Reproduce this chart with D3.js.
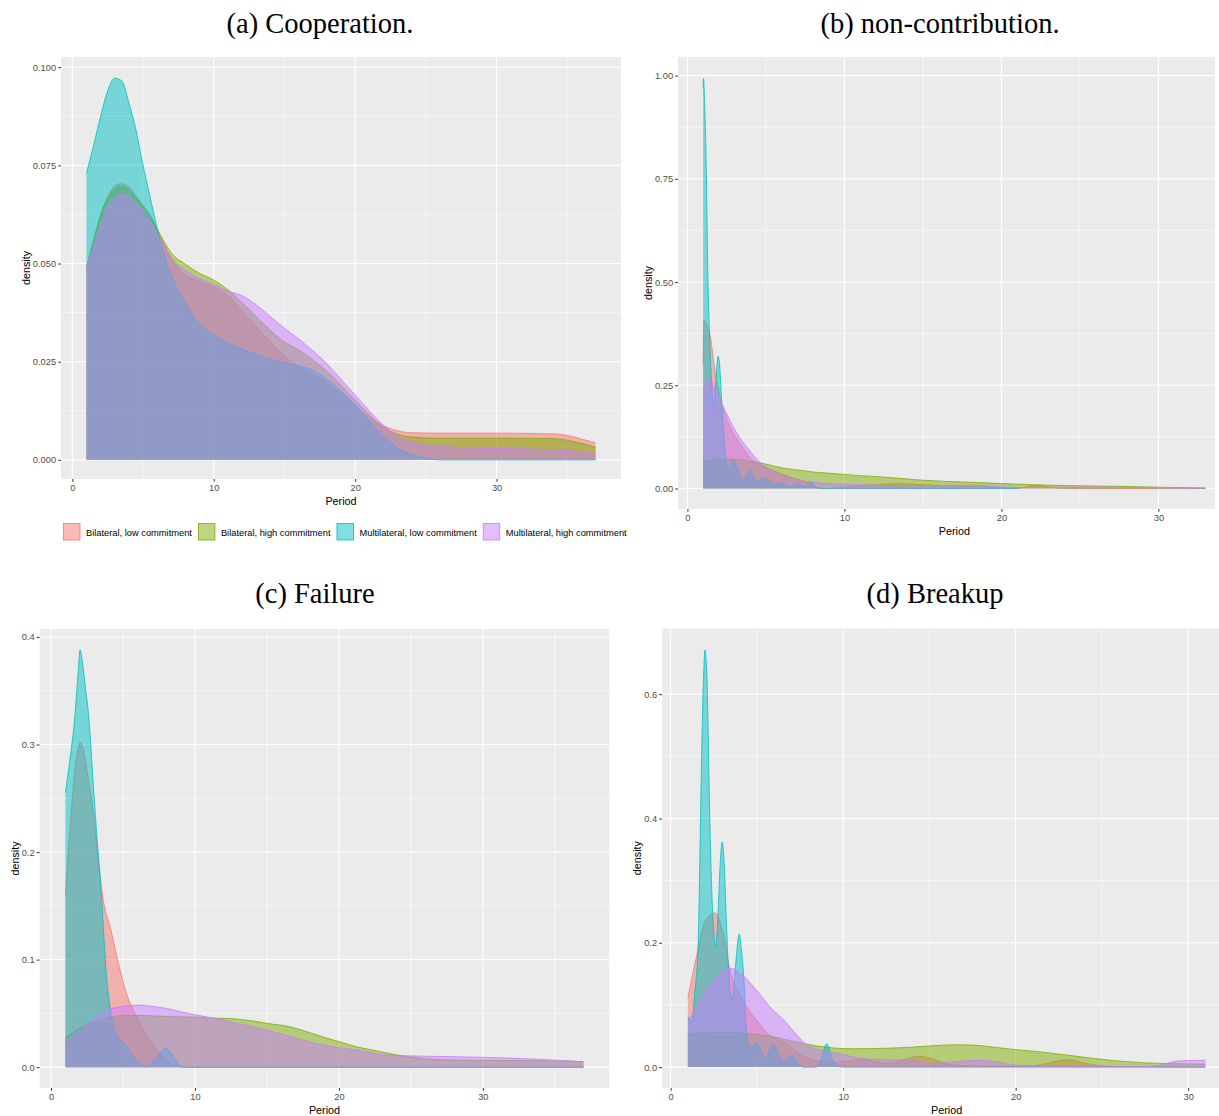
<!DOCTYPE html>
<html>
<head>
<meta charset="utf-8">
<script src="https://cdn.jsdelivr.net/npm/d3@7"></script>
<style>
  body { margin: 0; background: #fff; }
  text { font-family: "Liberation Sans", Arial, sans-serif; }
  .ptitle { font-family: "Liberation Serif", "Times New Roman", serif; }
</style>
</head>
<body>
<svg id="chart" width="1219" height="1116"></svg>
<script>
// groups in ggplot draw order
let groups = ["Bilateral, low commitment", "Bilateral, high commitment",
              "Multilateral, low commitment", "Multilateral, high commitment"];
let groupColors = ["#F8766D", "#7CAE00", "#00BFC4", "#C77CFF"];

let xTicks = [0, 10, 20, 30];

// (a) Cooperation -- [period, density]
let coopBilLow = [[1,0.049],[1.5,0.056],[2,0.0625],[2.5,0.067],[3,0.0697],[3.4,0.0703],[4,0.0695],[4.5,0.0672],[5,0.0648],[5.5,0.0622],[6,0.0585],[6.5,0.0548],[7,0.0512],[8,0.047],[9,0.0455],[10,0.044],[11,0.0418],[12,0.038],[13,0.034],[14,0.030],[15,0.0265],[16,0.0238],[17,0.0218],[18,0.0195],[19,0.0168],[20,0.0138],[21,0.0108],[22,0.0087],[23,0.0074],[24,0.0069],[26,0.0068],[30,0.0068],[34,0.0066],[35,0.0062],[36,0.0053],[37,0.0043]];
let coopBilHigh = [[1,0.049],[1.5,0.0555],[2,0.062],[2.5,0.0665],[3,0.069],[3.4,0.0696],[4,0.0688],[4.5,0.0668],[5,0.0645],[5.5,0.0622],[6,0.0588],[6.5,0.0555],[7,0.0527],[8,0.0498],[9,0.0475],[10,0.0458],[11,0.0433],[12,0.040],[13,0.0365],[14,0.033],[15,0.030],[16,0.028],[17,0.0255],[18,0.0225],[19,0.019],[20,0.0152],[21,0.0115],[22,0.0082],[23,0.0065],[24,0.0058],[26,0.0055],[30,0.0055],[34,0.0054],[35,0.005],[36,0.0042],[37,0.0032]];
let coopMulLow = [[1,0.073],[1.5,0.080],[2,0.0875],[2.5,0.094],[3,0.0972],[3.5,0.0965],[4,0.091],[4.5,0.084],[5,0.075],[5.5,0.067],[6,0.059],[6.5,0.052],[7,0.047],[7.5,0.043],[8,0.040],[9,0.0345],[10,0.0318],[11,0.0298],[12,0.0282],[13,0.0268],[14,0.0256],[15,0.0247],[16,0.024],[17,0.0228],[18,0.0205],[19,0.0175],[20,0.014],[21,0.0098],[22,0.006],[23,0.003],[24,0.0013],[25,0.0004],[26,0],[37,0]];
let coopMulHigh = [[1,0.049],[1.5,0.054],[2,0.0595],[2.5,0.0645],[3,0.0668],[3.5,0.0677],[4,0.0672],[4.5,0.0655],[5,0.0632],[5.5,0.0608],[6,0.0575],[6.5,0.0545],[7,0.0515],[8,0.0482],[9,0.0462],[10,0.0447],[11,0.043],[12,0.0418],[13,0.0395],[14,0.0365],[15,0.0335],[16,0.0308],[17,0.0278],[18,0.0245],[19,0.0205],[20,0.0165],[21,0.0125],[22,0.0088],[23,0.006],[24,0.0045],[26,0.0034],[30,0.0029],[34,0.0026],[35,0.0024],[36,0.002],[37,0.0015]];
let coopYTicks = [0, 0.025, 0.05, 0.075, 0.1];

// (b) non-contribution
let nonBilLow = [[1,0.30],[1.06,0.408],[1.2,0.40],[1.45,0.37],[1.7,0.30],[2,0.235],[2.4,0.18],[2.7,0.15],[3.35,0.109],[4,0.075],[4.6,0.058],[5.3,0.046],[6.5,0.028],[7.3,0.019],[7.8,0.012],[8.3,0.002],[8.8,0],[10,0.004],[12,0.009],[13.3,0.012],[15,0.009],[17,0.006],[19,0.004],[20.6,0.001],[21.3,0.002],[22.2,0.008],[23.1,0.003],[24,0],[33,0]];
let nonBilHigh = [[1,0.066],[2,0.071],[3,0.071],[4,0.066],[5,0.059],[6,0.05],[7,0.045],[8,0.04],[9,0.037],[10,0.034],[11,0.031],[12,0.029],[13,0.026],[14,0.023],[15,0.02],[16,0.018],[18,0.015],[20,0.012],[22,0.009],[24,0.007],[26,0.006],[28,0.005],[30,0.003],[32,0.002],[33,0.001]];
let nonMulLow = [[1,0.97],[1.03,0.993],[1.08,0.95],[1.2,0.78],[1.3,0.52],[1.4,0.38],[1.55,0.25],[1.68,0.19],[1.8,0.25],[1.95,0.32],[2.05,0.30],[2.2,0.2],[2.35,0.12],[2.6,0.048],[2.93,0.069],[3.2,0.045],[3.57,0.02],[4,0.043],[4.4,0.016],[4.95,0.028],[5.5,0.008],[6,0.0136],[6.5,0.003],[7,0.013],[7.4,0.004],[7.9,0.016],[8.2,0.002],[8.7,0],[21.1,0]];
let nonMulHigh = [[1,0.24],[1.2,0.255],[1.45,0.262],[1.8,0.235],[2.28,0.198],[2.7,0.165],[3.3,0.125],[4,0.09],[4.5,0.068],[5,0.052],[5.5,0.042],[6,0.032],[7,0.021],[8,0.015],[10,0.01],[12,0.008],[15,0.007],[18,0.008],[20,0.004],[22,0.002],[25,0.003],[30,0.002],[33,0.001]];
let nonYTicks = [0, 0.25, 0.5, 0.75, 1];

// (c) Failure
let failBilLow = [[1,0.16],[1.2,0.199],[1.55,0.261],[1.8,0.29],[2.02,0.302],[2.25,0.295],[2.48,0.277],[3,0.23],[3.4,0.177],[3.7,0.15],[4.1,0.131],[4.67,0.097],[5.25,0.068],[5.95,0.047],[6.87,0.025],[7.8,0.0096],[8.6,0.001],[9.2,0],[37,0]];
let failBilHigh = [[1,0.027],[2,0.036],[3,0.042],[4,0.046],[5.25,0.048],[6.5,0.048],[8,0.047],[10,0.0465],[11.5,0.0455],[12.65,0.045],[14,0.043],[15,0.0407],[16.6,0.0375],[18,0.032],[18.9,0.028],[20.05,0.0236],[21.2,0.019],[22.3,0.016],[23.5,0.0127],[25.8,0.008],[28.2,0.0065],[32.8,0.006],[36.2,0.0055],[37,0.005]];
let failMulLow = [[1,0.255],[1.3,0.285],[1.65,0.325],[1.9,0.37],[2.02,0.388],[2.2,0.375],[2.4,0.352],[2.6,0.329],[2.95,0.26],[3.28,0.199],[3.45,0.172],[3.63,0.131],[3.86,0.084],[4.1,0.056],[4.45,0.034],[4.85,0.025],[5.25,0.019],[5.6,0.012],[5.95,0.0065],[6.3,0.002],[6.65,0],[7,0.004],[7.35,0.0096],[7.7,0.015],[8,0.0174],[8.35,0.013],[8.7,0.006],[9.2,0],[37,0]];
let failMulHigh = [[1,0.025],[2.24,0.037],[3,0.045],[4.1,0.0537],[5,0.0565],[6.18,0.0577],[7,0.0565],[8.03,0.0546],[9,0.0515],[10.3,0.048],[11.5,0.045],[13,0.0405],[15,0.0345],[16.6,0.0285],[18.9,0.0205],[21.2,0.0158],[23.5,0.011],[25.8,0.0102],[30.5,0.009],[35.1,0.0065],[37,0.005]];
let failYTicks = [0, 0.1, 0.2, 0.3, 0.4];

// (d) Breakup
let breakBilLow = [[1,0.111],[1.5,0.178],[2,0.235],[2.57,0.248],[3.05,0.215],[3.44,0.156],[4,0.118],[4.4,0.097],[5,0.075],[5.58,0.055],[6.2,0.044],[6.72,0.037],[7.2,0.027],[7.69,0.018],[8.66,0.0096],[9.5,0.008],[10.3,0.01],[11,0.013],[11.8,0.009],[12.6,0.006],[13.5,0.012],[14.4,0.0176],[15.3,0.012],[16.2,0.004],[17.5,0.002],[19,0.001],[20.5,0.001],[21.5,0.004],[23,0.012],[24.2,0.005],[25.5,0.001],[31,0]];
let breakBilHigh = [[1,0.053],[2,0.055],[3.44,0.056],[4.5,0.054],[5.76,0.05],[7,0.042],[7.88,0.037],[9,0.032],[10.6,0.0295],[12,0.03],[13.9,0.032],[15,0.034],[16.4,0.036],[17.5,0.0355],[18.3,0.0335],[19.7,0.029],[21.6,0.024],[23.5,0.0175],[25.5,0.011],[27.4,0.007],[29.3,0.0054],[30.5,0.005],[31,0.0048]];
let breakMulLow = [[1,0.081],[1.22,0.073],[1.4,0.12],[1.6,0.2],[1.7,0.344],[1.8,0.505],[1.89,0.61],[1.99,0.671],[2.06,0.655],[2.12,0.613],[2.24,0.44],[2.32,0.344],[2.47,0.23],[2.61,0.191],[2.75,0.25],[2.88,0.33],[2.99,0.362],[3.1,0.33],[3.25,0.22],[3.4,0.14],[3.57,0.108],[3.75,0.16],[3.98,0.214],[4.1,0.19],[4.25,0.14],[4.4,0.055],[4.6,0.031],[4.95,0.04],[5.2,0.03],[5.47,0.012],[5.95,0.0375],[6.25,0.02],[6.53,0.0096],[7.01,0.018],[7.5,0.002],[7.7,0],[8.46,0],[8.75,0.015],[9.04,0.0375],[9.35,0.015],[9.62,0.002],[10,0],[31,0]];
let breakMulHigh = [[1,0.074],[1.5,0.095],[2,0.12],[2.5,0.14],[3,0.154],[3.44,0.159],[4,0.152],[4.79,0.13],[5.76,0.097],[6.72,0.071],[7.3,0.052],[7.88,0.036],[8.7,0.027],[9.62,0.0225],[10.97,0.0145],[12,0.012],[13.1,0.0117],[14,0.012],[15,0.006],[16.3,0.008],[17.7,0.011],[19,0.008],[19.7,0.004],[21.6,0.0015],[25.5,0.0005],[27.5,0.001],[28.4,0.003],[29.3,0.0096],[30.3,0.0107],[31,0.011]];
let breakYTicks = [0, 0.2, 0.4, 0.6];


////////////////////////////////////////////////////////////////////////
// layout of the four ggplot panels

let panels = [
  { title: "(a) Cooperation.", titleX: 320, titleY: 33,
    series: [coopBilLow, coopBilHigh, coopMulLow, coopMulHigh],
    left: 61, right: 621, top: 57, bottom: 479, clipRight: 621,
    xDomain: [-0.8, 38.8], yDomain: [-0.00488, 0.1026],
    yTicks: coopYTicks, yFormat: ".3f", yLabelX: 26, xLabelY: 505 },
  { title: "(b) non-contribution.", titleX: 940, titleY: 33,
    series: [nonBilLow, nonBilHigh, nonMulLow, nonMulHigh],
    left: 678, right: 1230.6, top: 57, bottom: 509, clipRight: 1215,
    xDomain: [-0.6, 34.6], yDomain: [-0.0497, 1.045],
    yTicks: nonYTicks, yFormat: ".2f", yLabelX: 648, xLabelY: 535 },
  { title: "(c) Failure", titleX: 315, titleY: 603,
    series: [failBilLow, failBilHigh, failMulLow, failMulHigh],
    left: 39.5, right: 609.5, top: 629, bottom: 1088, clipRight: 609.5,
    xDomain: [-0.8, 38.8], yDomain: [-0.0194, 0.4074],
    yTicks: failYTicks, yFormat: ".1f", yLabelX: 15, xLabelY: 1114 },
  { title: "(d) Breakup", titleX: 935, titleY: 603,
    series: [breakBilLow, breakBilHigh, breakMulLow, breakMulHigh],
    left: 662, right: 1231.3, top: 628.3, bottom: 1088, clipRight: 1219,
    xDomain: [-0.5, 32.5], yDomain: [-0.0336, 0.706],
    yTicks: breakYTicks, yFormat: ".1f", yLabelX: 637, xLabelY: 1114 }
];

let svg = d3.select("#chart");

// minor breaks sit half way between the major ones
function minorBreaks(ticks, domain) {
  let step = ticks[1] - ticks[0];
  let out = [];
  for (let v = ticks[0] - step / 2; v <= domain[1]; v += step) {
    if (v >= domain[0]) out.push(v);
  }
  return out;
}

panels.forEach(function(p, pi) {
  let x = d3.scaleLinear().domain(p.xDomain).range([p.left, p.right]);
  let y = d3.scaleLinear().domain(p.yDomain).range([p.bottom, p.top]);

  let clipId = "clip" + pi;
  svg.append("clipPath").attr("id", clipId)
    .append("rect")
    .attr("x", p.left).attr("y", p.top)
    .attr("width", p.clipRight - p.left).attr("height", p.bottom - p.top);

  let g = svg.append("g").attr("clip-path", "url(#" + clipId + ")");

  g.append("rect")
    .attr("x", p.left).attr("y", p.top)
    .attr("width", p.right - p.left).attr("height", p.bottom - p.top)
    .attr("fill", "#EBEBEB");

  // grid
  g.selectAll(".ymin").data(minorBreaks(p.yTicks, p.yDomain)).enter().append("line")
    .attr("x1", p.left).attr("x2", p.right)
    .attr("y1", d => y(d)).attr("y2", d => y(d))
    .attr("stroke", "#fff").attr("stroke-width", 0.55);
  g.selectAll(".xmin").data(minorBreaks(xTicks, p.xDomain)).enter().append("line")
    .attr("y1", p.top).attr("y2", p.bottom)
    .attr("x1", d => x(d)).attr("x2", d => x(d))
    .attr("stroke", "#fff").attr("stroke-width", 0.55);
  g.selectAll(".ymaj").data(p.yTicks).enter().append("line")
    .attr("x1", p.left).attr("x2", p.right)
    .attr("y1", d => y(d)).attr("y2", d => y(d))
    .attr("stroke", "#fff").attr("stroke-width", 1.1);
  g.selectAll(".xmaj").data(xTicks).enter().append("line")
    .attr("y1", p.top).attr("y2", p.bottom)
    .attr("x1", d => x(d)).attr("x2", d => x(d))
    .attr("stroke", "#fff").attr("stroke-width", 1.1);

  // densities
  let area = d3.area()
    .x(d => x(d[0])).y0(y(0)).y1(d => y(d[1]))
    .curve(d3.curveMonotoneX);
  let line = d3.line()
    .x(d => x(d[0])).y(d => y(d[1]))
    .curve(d3.curveMonotoneX);

  p.series.forEach(function(s, i) {
    g.append("path").attr("d", area(s))
      .attr("fill", groupColors[i]).attr("fill-opacity", 0.5);
    g.append("path").attr("d", line(s))
      .attr("fill", "none").attr("stroke", groupColors[i]).attr("stroke-width", 0.8);
  });

  // axes
  let yAxis = svg.append("g")
    .attr("transform", "translate(" + p.left + ",0)")
    .call(d3.axisLeft(y).tickValues(p.yTicks).tickFormat(d3.format(p.yFormat))
          .tickSize(2.75).tickPadding(2.2));
  let xAxis = svg.append("g")
    .attr("transform", "translate(0," + p.bottom + ")")
    .call(d3.axisBottom(x).tickValues(xTicks).tickSize(2.75).tickPadding(2.2));
  [xAxis, yAxis].forEach(function(a) {
    a.select(".domain").remove();
    a.selectAll(".tick line").attr("stroke", "#333333").attr("stroke-width", 1);
    a.selectAll(".tick text").attr("fill", "#4D4D4D")
      .style("font-family", "'Liberation Sans', Arial, sans-serif")
      .style("font-size", "9.3px");
  });

  // axis titles
  svg.append("text")
    .attr("x", (p.left + p.right) / 2).attr("y", p.xLabelY)
    .attr("text-anchor", "middle").attr("font-size", 10.8).attr("fill", "#000")
    .text("Period");
  svg.append("text")
    .attr("transform", "translate(" + p.yLabelX + "," + ((p.top + p.bottom) / 2) + ") rotate(-90)")
    .attr("dy", "0.35em")
    .attr("text-anchor", "middle").attr("font-size", 10.8).attr("fill", "#000")
    .text("density");

  // panel title
  svg.append("text").attr("class", "ptitle")
    .attr("x", p.titleX).attr("y", p.titleY)
    .attr("text-anchor", "middle").attr("font-size", 28.5).attr("fill", "#000")
    .text(p.title);
});

// legend under panel (a)
let legend = svg.append("g");
let lx = 63;
groups.forEach(function(name, i) {
  legend.append("rect")
    .attr("x", lx + 0.5).attr("y", 523.5).attr("width", 16.5).attr("height", 16.5)
    .attr("fill", groupColors[i]).attr("fill-opacity", 0.5)
    .attr("stroke", groupColors[i]).attr("stroke-width", 0.8);
  let t = legend.append("text")
    .attr("x", lx + 23).attr("y", 535.5)
    .attr("font-size", 9.3).attr("fill", "#000")
    .text(name);
  lx = lx + 23 + t.node().getComputedTextLength() + 6;
});
</script>
</body>
</html>
